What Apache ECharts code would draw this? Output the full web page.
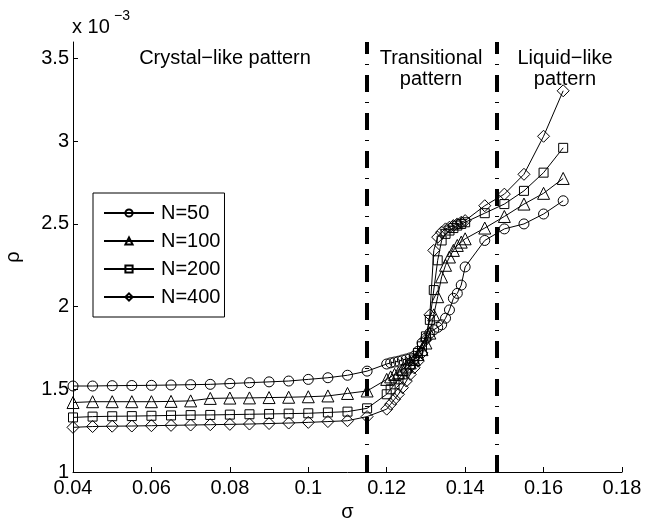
<!DOCTYPE html>
<html>
<head>
<meta charset="utf-8">
<script src="https://cdn.jsdelivr.net/npm/echarts@6/dist/echarts.min.js"></script>
<style>html,body{margin:0;padding:0;background:#fff}#c{width:653px;height:519px}</style>
</head>
<body>
<div id="c"></div>
<script>
var sigma = [0.04,0.045,0.05,0.055,0.06,0.065,0.07,0.075,0.08,0.085,0.09,0.095,0.1,0.105,0.11,0.115,
  0.12,0.121,0.122,0.123,0.124,0.125,0.126,0.127,0.128,0.129,0.13,0.131,0.132,0.133,0.134,0.135,0.136,0.137,0.138,0.139,0.14,
  0.145,0.15,0.155,0.16,0.165];
var rhoN50 = [1.52,1.52,1.522,1.523,1.524,1.526,1.528,1.53,1.535,1.54,1.545,1.55,1.56,1.57,1.585,1.61,
  1.653,1.66,1.665,1.67,1.677,1.683,1.69,1.70,1.73,1.78,1.81,1.84,1.86,1.875,1.89,1.93,1.98,2.05,2.08,2.13,2.24,
  2.40,2.47,2.50,2.56,2.64];
var rhoN100 = [1.42,1.425,1.425,1.425,1.425,1.427,1.43,1.445,1.447,1.448,1.45,1.452,1.455,1.46,1.475,1.49,
  1.56,1.575,1.59,1.60,1.62,1.64,1.66,1.68,1.71,1.74,1.78,1.84,1.95,2.06,2.18,2.25,2.30,2.34,2.37,2.39,2.41,
  2.475,2.545,2.62,2.685,2.775];
var rhoN200 = [1.33,1.335,1.337,1.338,1.34,1.342,1.344,1.345,1.347,1.349,1.351,1.353,1.355,1.36,1.365,1.385,
  1.47,1.50,1.53,1.56,1.59,1.62,1.65,1.68,1.72,1.76,1.82,1.92,2.10,2.28,2.40,2.44,2.46,2.475,2.49,2.50,2.51,
  2.565,2.62,2.70,2.81,2.96];
var rhoN400 = [1.27,1.275,1.277,1.278,1.28,1.282,1.284,1.286,1.288,1.29,1.293,1.296,1.30,1.305,1.31,1.335,
  1.38,1.41,1.44,1.47,1.51,1.55,1.59,1.63,1.67,1.72,1.80,1.95,2.34,2.42,2.45,2.47,2.48,2.49,2.50,2.51,2.52,
  2.61,2.68,2.80,3.03,3.305];
var seriesNames = ['N=50','N=100','N=200','N=400'];
var symbols = ['circle','triangle','rect','diamond'];
var symbolSizes = [10,12,9,12];
var boundaries = [0.115, 0.148];
var yTicks = [1,1.5,2,2.5,3,3.5];
var regionTexts = ['Crystal\u2212like pattern','Transitional\npattern','Liquid\u2212like\npattern'];

var FONT = 'Liberation Sans, Arial, Helvetica, sans-serif';
var chart = echarts.init(document.getElementById('c'));
var allRho = [rhoN50, rhoN100, rhoN200, rhoN400];
var series = allRho.map(function (vals, i) {
  var s = {
    name: seriesNames[i],
    type: 'line',
    data: sigma.map(function (x, j) { return [x, vals[j]]; }),
    symbol: symbols[i],
    symbolSize: symbolSizes[i],
    showAllSymbol: true,
    lineStyle: { color: '#000', width: 1 },
    itemStyle: { color: 'rgba(255,255,255,0)', borderColor: '#000', borderWidth: 1 },
    emphasis: { disabled: true },
    z: 2
  };
  if (i === 0) {
    s.markLine = {
      silent: true,
      precision: 4,
      symbol: ['none', 'none'],
      label: { show: false },
      lineStyle: { color: '#000', width: 4, type: [17, 10, 1, 10], cap: 'butt' },
      data: boundaries.map(function (b) { return { xAxis: b }; }),
      z: 5
    };
  }
  return s;
});

chart.setOption({
  animation: false,
  backgroundColor: '#fff',
  textStyle: { fontFamily: FONT },
  grid: { left: 73, right: 31, top: 42, bottom: 47, containLabel: false, outerBoundsMode: 'none' },
  xAxis: {
    type: 'value', min: 0.04, max: 0.18, interval: 0.02,
    name: '\u03c3', nameLocation: 'middle', nameGap: 30,
    nameTextStyle: { fontSize: 20, color: '#000', fontFamily: FONT },
    axisLine: { lineStyle: { color: '#000', width: 1 } },
    axisTick: { inside: true, length: 5, lineStyle: { color: '#000' } },
    axisLabel: { color: '#000', fontSize: 20, margin: 6, fontFamily: FONT },
    splitLine: { show: false }
  },
  yAxis: {
    type: 'value', min: 1, max: 3.6, interval: 0.5,
    name: '\u03c1', nameLocation: 'middle', nameGap: 50,
    nameTextStyle: { fontSize: 20, color: '#000', fontFamily: FONT },
    axisLine: { show: true, lineStyle: { color: '#000', width: 1 } },
    axisTick: { show: true, inside: true, length: 5, lineStyle: { color: '#000' }, customValues: yTicks },
    axisLabel: { color: '#000', fontSize: 20, margin: 4, fontFamily: FONT, customValues: yTicks },
    splitLine: { show: false }
  },
  legend: {
    orient: 'vertical', left: 93, top: 193,
    data: seriesNames,
    itemWidth: 50, itemHeight: 9, itemGap: 8,
    padding: [10, 4, 10, 10],
    backgroundColor: '#fff',
    borderColor: '#000', borderWidth: 1,
    textStyle: { fontSize: 20, color: '#000', fontFamily: FONT, lineHeight: 20, padding: [0, 0, 0, 2] },
    selectedMode: false
  },
  graphic: [
    { type: 'text', left: 72, top: 17, style: { text: 'x 10', fontSize: 20, fill: '#000', fontFamily: FONT } },
    { type: 'text', left: 114, top: 9, style: { text: '\u22123', fontSize: 14, fill: '#000', fontFamily: FONT } },
    { type: 'text', x: 225, y: 58, style: { text: regionTexts[0], fontSize: 20, fill: '#000', fontFamily: FONT, align: 'center', verticalAlign: 'middle' } },
    { type: 'text', x: 431, y: 69, style: { text: regionTexts[1], fontSize: 20, lineHeight: 21, fill: '#000', fontFamily: FONT, align: 'center', verticalAlign: 'middle' } },
    { type: 'text', x: 565, y: 69, style: { text: regionTexts[2], fontSize: 20, lineHeight: 21, fill: '#000', fontFamily: FONT, align: 'center', verticalAlign: 'middle' } }
  ],
  series: series
});
</script>
</body>
</html>
